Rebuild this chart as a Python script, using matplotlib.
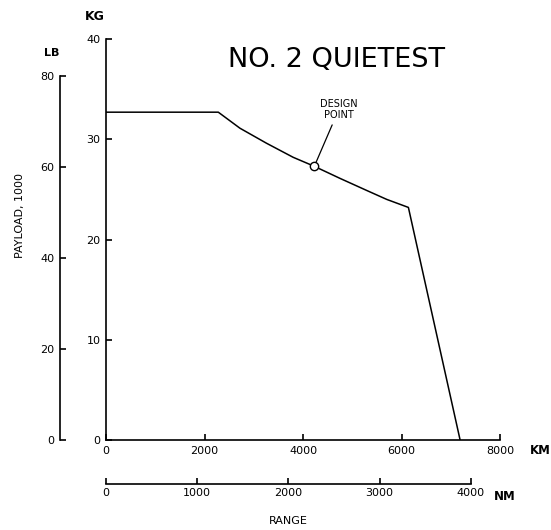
import numpy as np
import matplotlib
matplotlib.use("Agg")
import matplotlib.pyplot as plt

## data (range in km, payload in 1000 kg)
range_km = [0, 2280, 2720, 3260, 3800, 4230, 4750, 5290, 5700, 6140, 7190]
payload_kg = [32.7, 32.7, 31.1, 29.6, 28.2, 27.3, 26.1, 24.9, 24.0, 23.2, 0.0]
design_km = 4230
design_kg = 27.3

kg_ticks = [0, 10, 20, 30, 40]
lb_ticks = [0, 20, 40, 60, 80]
km_ticks = [0, 2000, 4000, 6000, 8000]
nm_ticks = [0, 1000, 2000, 3000, 4000]

KG_TO_LB = 2.20462
NM_TO_KM = 1.852

plt.rcParams['font.family'] = 'DejaVu Sans'
W, H = 551, 530
fig = plt.figure(figsize=(W / 100, H / 100), dpi=100)

# main axes (KG / KM), pixel box -> figure fraction
x0, x1, y0, y1 = 106, 500, 440, 39
rect = [x0 / W, 1 - y0 / H, (x1 - x0) / W, (y0 - y1) / H]
ax = fig.add_axes(rect)
ax.plot(range_km, payload_kg, color='black', lw=1.1)
ax.plot([design_km], [design_kg], marker='o', ms=6, mfc='white', mec='black', mew=1.0)
ax.set_xlim(0, 8000)
ax.set_ylim(0, 40)
ax.set_xticks(km_ticks)
ax.set_yticks(kg_ticks)
for s in ['top', 'right']:
    ax.spines[s].set_visible(False)
for s in ['left', 'bottom']:
    ax.spines[s].set_linewidth(1.2)
ax.tick_params(direction='in', length=4, width=1.2, labelsize=8, pad=4)

# LB axis, further left
axl = fig.add_axes(rect)
axl.patch.set_visible(False)
axl.set_ylim(0, 40 * KG_TO_LB)
axl.set_xticks([])
axl.set_yticks(lb_ticks)
for s in ['top', 'right', 'bottom']:
    axl.spines[s].set_visible(False)
axl.spines['left'].set_position(('axes', -(106 - 60) / (x1 - x0)))
axl.spines['left'].set_bounds(0, 80)
axl.spines['left'].set_linewidth(1.2)
axl.tick_params(direction='in', length=4, width=1.2, labelsize=8, pad=4)

# NM axis, further down
axn = fig.add_axes(rect)
axn.patch.set_visible(False)
axn.set_xlim(0, 8000 / NM_TO_KM)
axn.set_yticks([])
axn.set_xticks(nm_ticks)
for s in ['top', 'right', 'left']:
    axn.spines[s].set_visible(False)
axn.spines['bottom'].set_position(('axes', -(484 - 440) / (y0 - y1)))
axn.spines['bottom'].set_bounds(0, 4000)
axn.spines['bottom'].set_linewidth(1.2)
axn.tick_params(direction='in', length=4, width=1.2, labelsize=8, pad=3)

# texts
ax.text(4690, 37.9, 'NO. 2 QUIETEST', fontsize=19.5, ha='center', va='center')
ax.annotate('DESIGN\nPOINT', xy=(design_km, design_kg), xytext=(4730, 33.0),
            ha='center', va='center', fontsize=7, linespacing=1.1,
            arrowprops=dict(arrowstyle='-', color='black', lw=0.9, shrinkA=2, shrinkB=3))
fig.text(95 / W, 1 - 16 / H, 'KG', fontsize=9, ha='center', va='center', weight='bold')
fig.text(52 / W, 1 - 53 / H, 'LB', fontsize=8, ha='center', va='center', weight='bold')
fig.text(20 / W, 1 - 215 / H, 'PAYLOAD, 1000', fontsize=8, rotation=90, ha='center', va='center')
fig.text(540 / W, 1 - 451 / H, 'KM', fontsize=8.5, ha='center', va='center', weight='bold')
fig.text(505 / W, 1 - 496 / H, 'NM', fontsize=8.5, ha='center', va='center', weight='bold')
fig.text(288 / W, 1 - 521 / H, 'RANGE', fontsize=8, ha='center', va='center')

fig.savefig('out.png', dpi=100)
